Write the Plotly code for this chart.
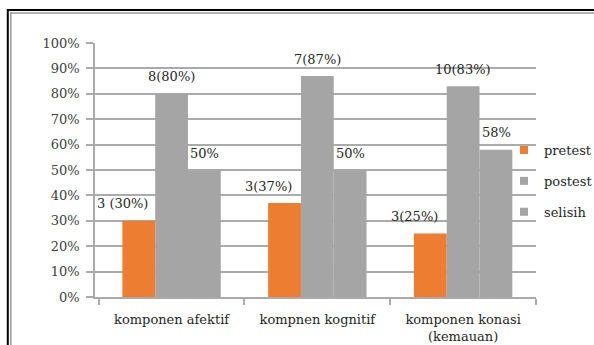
import plotly.graph_objects as go

categories = ["komponen afektif", "kompnen kognitif", "komponen konasi<br>(kemauan)"]
series_names = ["pretest", "postest", "selisih"]
pretest = [0.30, 0.37, 0.25]
postest = [0.80, 0.87, 0.83]
selisih = [0.50, 0.50, 0.58]
pretest_labels = ["3 (30%)", "3(37%)", "3(25%)"]
postest_labels = ["8(80%)", "7(87%)", "10(83%)"]
selisih_labels = ["50%", "50%", "58%"]
y_ticks = [i / 10 for i in range(11)]

colors = ["#ED7D31", "#A5A5A5", "#A5A5A5"]
values = [pretest, postest, selisih]
labels = [pretest_labels, postest_labels, selisih_labels]

W, H = 594, 345
ML, MR, MT, MB = 95, 58, 43, 48
BARGAP = 0.325
FONT = "DejaVu Serif"
FS = 13

fig = go.Figure()
for name, vals, col in zip(series_names, values, colors):
    fig.add_trace(go.Bar(x=categories, y=vals, name=name, marker=dict(color=col, line=dict(width=0)),
                         showlegend=False))
for i, (name, col) in enumerate(zip(series_names, colors)):
    fig.add_trace(go.Scatter(x=[None], y=[None], mode="markers", name=name, legendgroup=f"g{i}",
                             marker=dict(symbol="square", size=8, color=col)))

plot_w = W - ML - MR
plot_h = H - MT - MB
bar_w = plot_w / len(categories) * (1 - BARGAP) / 3
label_dx = [-16, 0, 0]
annotations = []
for i, (vals, labs) in enumerate(zip(values, labels)):
    for cat, v, t in zip(categories, vals, labs):
        annotations.append(dict(x=cat, y=v, text=t, showarrow=False, xref="x", yref="y",
                                xshift=(i - 1) * bar_w + label_dx[i], yshift=17,
                                yanchor="middle", font=dict(family=FONT, size=FS, color="#262626")))

def px_x(p):
    return (p - ML) / plot_w

def px_y(p):
    return 1 - (p - MT) / plot_h

shapes = [
    dict(type="line", xref="paper", yref="paper", x0=px_x(7.8), x1=px_x(7.8), y0=px_y(9), y1=px_y(H + 5),
         line=dict(color="#000000", width=2)),
    dict(type="line", xref="paper", yref="paper", x0=px_x(10.8), x1=px_x(10.8), y0=px_y(12), y1=px_y(H + 5),
         line=dict(color="#9a9a9a", width=1.5)),
    dict(type="line", xref="paper", yref="paper", x0=px_x(7), x1=px_x(W + 5), y0=px_y(10), y1=px_y(10),
         line=dict(color="#000000", width=2)),
    dict(type="line", xref="paper", yref="paper", x0=px_x(10), x1=px_x(W + 5), y0=px_y(13), y1=px_y(13),
         line=dict(color="#9a9a9a", width=1.5)),
]

fig.update_layout(
    width=W, height=H,
    margin=dict(l=ML, r=MR, t=MT, b=MB, autoexpand=False),
    barmode="group", bargap=BARGAP, bargroupgap=0,
    paper_bgcolor="white", plot_bgcolor="white",
    font=dict(family=FONT, size=FS, color="#262626"),
    annotations=annotations,
    shapes=shapes,
    legend=dict(x=px_x(504), y=px_y(135), xanchor="left", yanchor="top",
                bgcolor="rgba(0,0,0,0)", font=dict(family=FONT, size=FS, color="#262626"),
                tracegroupgap=11, itemclick=False),
    showlegend=True,
)

fig.update_yaxes(range=[0, 1], tickvals=y_ticks, tickformat=".0%", showgrid=True, automargin=False,
                 gridcolor="#ABABAB", gridwidth=1.6, showline=True, linecolor="#ABABAB", linewidth=1.6,
                 ticks="outside", ticklen=7, tickcolor="#ABABAB", tickwidth=1.6,
                 tickfont=dict(family=FONT, size=FS, color="#404040"), zeroline=False, ticklabelstandoff=4)
fig.update_xaxes(showline=True, linecolor="#ABABAB", linewidth=1.6, ticks="outside", tickson="boundaries",
                 automargin=False, ticklen=6, tickcolor="#ABABAB", tickwidth=1.6, ticklabelstandoff=10,
                 tickfont=dict(family=FONT, size=FS, color="#262626"), showgrid=False)

fig.write_html("out.html")
